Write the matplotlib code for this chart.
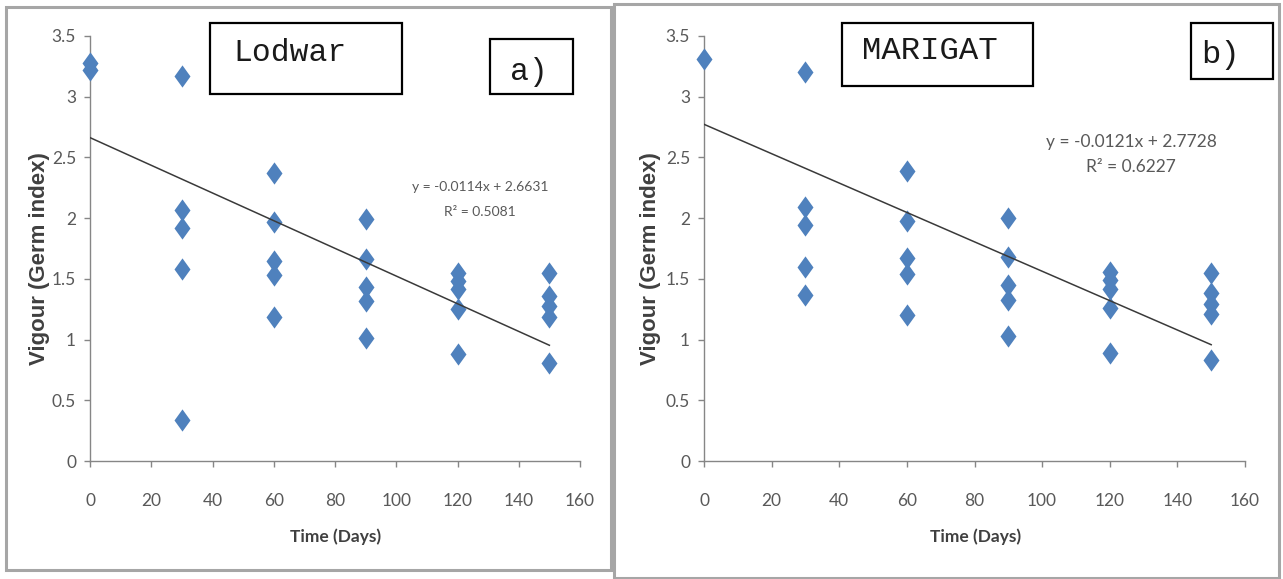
import numpy as np
import matplotlib
matplotlib.use("Agg")
import matplotlib.pyplot as plt
from matplotlib.patches import Rectangle
from matplotlib.path import Path

# ── Data ──────────────────────────────────────────────────────────────────────

days = [0, 30, 60, 90, 120, 150]

lodwar_vigour = [
    [3.28, 3.22],
    [3.17, 2.07, 1.92, 1.58, 0.34],
    [2.37, 1.97, 1.65, 1.53, 1.19],
    [1.99, 1.66, 1.43, 1.32, 1.01],
    [1.55, 1.48, 1.42, 1.25, 0.88],
    [1.55, 1.36, 1.28, 1.19, 0.81],
]
marigat_vigour = [
    [3.31],
    [3.20, 2.09, 1.94, 1.60, 1.37],
    [2.39, 1.98, 1.67, 1.54, 1.20],
    [2.00, 1.68, 1.45, 1.33, 1.03],
    [1.56, 1.49, 1.42, 1.26, 0.89],
    [1.55, 1.38, 1.29, 1.21, 0.83],
]

lodwar_fit = (-0.0114, 2.6631, 0.5081)
marigat_fit = (-0.0121, 2.7728, 0.6227)

x_ticks = [0, 20, 40, 60, 80, 100, 120, 140, 160]
y_ticks = [0, 0.5, 1, 1.5, 2, 2.5, 3, 3.5]
y_tick_labels = ["0", "0.5", "1", "1.5", "2", "2.5", "3", "3.5"]

# ── Figure setup ──────────────────────────────────────────────────────────────

W, H = 1283, 579
fig = plt.figure(figsize=(W / 100, H / 100), dpi=100)
fig.patch.set_facecolor("white")

SANS = ["Lato", "DejaVu Sans"]
MONO = ["Liberation Mono", "DejaVu Sans Mono"]
BLUE = "#4F81BD"
GREY = "#868686"

diamond = Path([(0, 1), (0.72, 0), (0, -1), (-0.72, 0), (0, 1)],
               [Path.MOVETO, Path.LINETO, Path.LINETO, Path.LINETO, Path.CLOSEPOLY])


def fx(px):
    return px / W


def fy(py):
    return 1 - py / H


def frame(x0, y0, x1, y1, color, lw):
    fig.add_artist(Rectangle((fx(x0), fy(y1)), fx(x1) - fx(x0), fy(y0) - fy(y1),
                             transform=fig.transFigure, fill=False,
                             edgecolor=color, linewidth=lw))


def draw_panel(ax_px, values, fit, eq_px, eq_size, ylab_x, xlab_x):
    left, right, top, bottom = ax_px
    ax = fig.add_axes([fx(left), fy(bottom), fx(right) - fx(left), fy(top) - fy(bottom)])

    for d, vals in zip(days, values):
        ax.plot([d] * len(vals), vals, linestyle="none", marker=diamond,
                markersize=16, color=BLUE, markeredgewidth=0, clip_on=False, zorder=3)

    slope, intercept, r2 = fit
    xs = np.array([min(days), max(days)])
    ax.plot(xs, slope * xs + intercept, color="#3a3a3a", linewidth=1.1, zorder=4)

    ax.set_xlim(0, 160)
    ax.set_ylim(0, 3.5)
    ax.set_xticks(x_ticks)
    ax.set_yticks(y_ticks)
    ax.set_yticklabels(y_tick_labels)
    for s in ("top", "right"):
        ax.spines[s].set_visible(False)
    for s in ("left", "bottom"):
        ax.spines[s].set_color(GREY)
        ax.spines[s].set_linewidth(1.0)
    ax.tick_params(axis="both", direction="out", length=4, width=1, color=GREY,
                   labelcolor="#595959", labelsize=12.5)
    ax.tick_params(axis="x", pad=19)
    ax.tick_params(axis="y", pad=6)
    for lab in ax.get_xticklabels() + ax.get_yticklabels():
        lab.set_family(SANS)

    ex, ey = eq_px
    fig.text(fx(ex), fy(ey), f"y = {slope}x + {intercept}", ha="center", va="center",
             family=SANS, fontsize=eq_size, color="#595959")
    fig.text(fx(ex), fy(ey + 25), f"R² = {r2}", ha="center", va="center",
             family=SANS, fontsize=eq_size, color="#595959")

    fig.text(fx(ylab_x), fy((top + bottom) / 2 + 10), "Vigour (Germ index)", rotation=90,
             ha="center", va="center", family=["Liberation Sans", "DejaVu Sans"],
             fontsize=16, fontweight="bold", color="#404040")
    fig.text(fx(xlab_x), fy(537), "Time (Days)", ha="center", va="center",
             family=SANS, fontsize=12.5, fontweight="bold", color="#404040")
    return ax


# ── Panel outlines ────────────────────────────────────────────────────────────

frame(6, 7, 611, 570, "#a6a6a6", 2.2)
frame(614, 4, 1279, 578, "#a6a6a6", 2.2)

# ── Panels ────────────────────────────────────────────────────────────────────

draw_panel((90, 580, 36, 461), lodwar_vigour, lodwar_fit, (480, 187), 10, 40, 336)
draw_panel((704, 1245, 36, 461), marigat_vigour, marigat_fit, (1131, 142), 12.5, 650, 976)

# ── Label boxes ───────────────────────────────────────────────────────────────

frame(210, 23, 402, 94, "black", 1.6)
fig.text(fx(233), fy(53), "Lodwar", ha="left", va="center", family=MONO,
         fontsize=22.6, color="#1a1a1a")
frame(490, 39, 573, 94, "black", 1.6)
fig.text(fx(529), fy(72), "a)", ha="center", va="center", family=MONO,
         fontsize=22.6, color="#1a1a1a")

frame(842, 23, 1033, 86, "black", 1.6)
fig.text(fx(862), fy(51), "MARIGAT", ha="left", va="center", family=MONO,
         fontsize=23.2, color="#1a1a1a")
frame(1191, 23, 1273, 79, "black", 1.6)
fig.text(fx(1221), fy(55), "b)", ha="center", va="center", family=MONO,
         fontsize=23.2, color="#1a1a1a")

fig.savefig("out.png", dpi=100, facecolor="white")
